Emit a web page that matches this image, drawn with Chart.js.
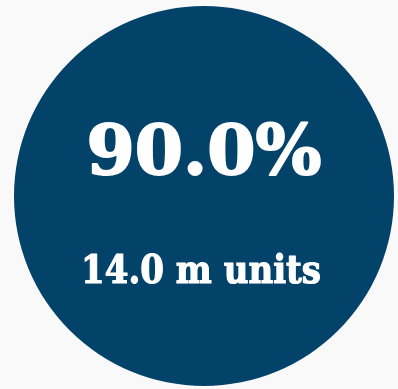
<!DOCTYPE html>
<html>
<head>
<meta charset="utf-8">
<script src="https://cdn.jsdelivr.net/npm/chart.js@4/dist/chart.umd.min.js"></script>
<style>
  html, body { margin: 0; padding: 0; background: #f9f9f9; }
  #wrap { width: 398px; height: 389px; }
</style>
</head>
<body>
<div id="wrap"><canvas id="badge"></canvas></div>
<script>
// Share shown in the badge and the volume underneath it
const shareLabels = ['Share'];
const shareValues = [90.0];
const unitValues = [14.0];
const unitSuffix = 'm units';

const circleColor = '#03436a';

// Writes the two lines of text over the circle, squeezed to a set width
const centerText = {
  id: 'centerText',
  afterDraw(chart) {
    const ctx = chart.ctx;
    const arc = chart.getDatasetMeta(0).data[0];
    const cx = arc.x;
    const lines = [
      { text: shareValues[0].toFixed(1) + '%', size: 69, y: 174, width: 235, dx: 0, weight: 2 },
      { text: unitValues[0].toFixed(1) + ' ' + unitSuffix, size: 39, y: 283, width: 240, dx: -3, weight: 1.2 }
    ];
    ctx.save();
    ctx.fillStyle = '#ffffff';
    ctx.strokeStyle = '#ffffff';
    ctx.lineJoin = 'round';
    ctx.textAlign = 'center';
    ctx.textBaseline = 'alphabetic';
    lines.forEach(l => {
      ctx.font = 'bold ' + l.size + 'px "DejaVu Serif", serif';
      const w = ctx.measureText(l.text).width;
      const sx = l.width / w;
      ctx.save();
      ctx.translate(cx + l.dx, l.y);
      ctx.scale(sx, 1);
      ctx.lineWidth = l.weight;
      ctx.fillText(l.text, 0, 0);
      ctx.strokeText(l.text, 0, 0);
      ctx.restore();
    });
    ctx.restore();
  }
};

new Chart(document.getElementById('badge'), {
  type: 'pie',
  data: {
    labels: shareLabels,
    datasets: [{
      data: shareValues,
      backgroundColor: [circleColor],
      borderWidth: 0,
      hoverOffset: 0
    }]
  },
  options: {
    responsive: true,
    maintainAspectRatio: false,
    animation: false,
    layout: { padding: { top: 5, bottom: 2, left: 14, right: 4 } },
    plugins: {
      legend: { display: false },
      tooltip: { enabled: false }
    }
  },
  plugins: [centerText]
});
</script>
</body>
</html>
